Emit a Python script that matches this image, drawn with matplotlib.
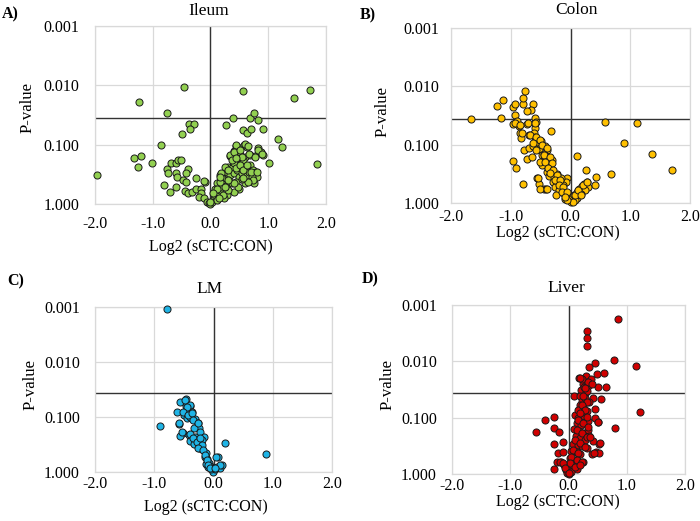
import matplotlib.pyplot as plt
from matplotlib.ticker import FixedLocator, FormatStrFormatter

plt.rcParams['font.family'] = ['Liberation Serif', 'DejaVu Serif']

# threshold line (p-value)
cutoff = 0.036

# Ileum
ileum_x = [-0.46, -1.24, -0.76, 0.56, 1.45, 1.73, 0.39, 0.69, 0.75, 0.83,
           -0.37, -0.28, -0.36, -0.49, 0.27, 0.56, 0.63, 0.71, 0.91, 1.17,
           1.24, -0.85, 1.84, -1.97, -1.32, -1.21, -1.25, -1.01, -0.81, -0.70,
           -0.60, -0.76, -0.74, -0.68, -0.59, -0.57, -0.51, -0.60, -0.58, -0.47,
           -0.42, -0.39, -0.43, -0.25, -0.10, -0.44, -0.39, -0.32, -0.25, -0.17,
           -0.16, -0.20, -0.11, -0.06, -0.03, 0.00, 0.03, 0.06, 0.10, 0.13,
           0.17, 0.20, 0.23, 0.16, 0.25, 0.28, 0.31, 0.34, 0.37, 0.40,
           0.43, 0.46, 0.49, 0.34, 0.40, 0.44, 0.51, 0.58, 0.64, 0.51,
           0.60, 0.68, 0.77, 0.83, 0.87, 0.91, 1.01, 0.60, 0.68, 0.74,
           0.79, 0.80, 0.76, 0.60, 0.49, 0.40, 0.28, 0.23, 0.11, 0.54,
           0.63, 0.50, 0.57, 0.46, 0.66, 0.31, 0.20, 0.12, 0.08, 0.27,
           0.37, 0.45, 0.54, 0.72, 0.44, 0.60, 0.65, 0.34, 0.40, 0.51,
           0.54, 0.67, 0.77, 0.83, 0.89, 0.25, 0.31, 0.40, 0.45, 0.51,
           0.57, 0.63, 0.71, 0.80, 0.74, 0.65, 0.57, 0.48, 0.40, 0.31,
           0.19, 0.16, 0.11, 0.05, 0.22, 0.31, 0.25, -0.11, 0.37, 0.45,
           0.16, 0.14, 0.00]
ileum_p = [0.0105, 0.019, 0.029, 0.0123, 0.0166, 0.012, 0.035, 0.035, 0.029, 0.038,
           0.045, 0.044, 0.055, 0.065, 0.047, 0.057, 0.063, 0.055, 0.055, 0.079,
           0.11, 0.10, 0.21, 0.32, 0.17, 0.155, 0.235, 0.205, 0.47, 0.63,
           0.52, 0.26, 0.30, 0.205, 0.205, 0.18, 0.18, 0.30, 0.35, 0.40,
           0.42, 0.26, 0.30, 0.37, 0.42, 0.61, 0.66, 0.62, 0.56, 0.55,
           0.66, 0.75, 0.80, 0.91, 0.97, 1.0, 0.93, 0.83, 0.75, 0.66,
           0.58, 0.51, 0.42, 0.32, 0.35, 0.29, 0.235, 0.32, 0.25, 0.30,
           0.205, 0.27, 0.35, 0.155, 0.13, 0.105, 0.115, 0.10, 0.108, 0.15,
           0.16, 0.15, 0.155, 0.115, 0.135, 0.15, 0.205, 0.235, 0.22, 0.27,
           0.29, 0.35, 0.44, 0.45, 0.55, 0.62, 0.71, 0.80, 0.85, 0.30,
           0.32, 0.19, 0.18, 0.17, 0.29, 0.40, 0.37, 0.45, 0.55, 0.50,
           0.45, 0.42, 0.38, 0.35, 0.102, 0.098, 0.105, 0.148, 0.132, 0.123,
           0.159, 0.145, 0.159, 0.123, 0.144, 0.234, 0.27, 0.205, 0.25, 0.22,
           0.27, 0.22, 0.29, 0.29, 0.40, 0.42, 0.37, 0.51, 0.45, 0.40,
           0.30, 0.42, 0.55, 0.66, 0.71, 0.58, 0.51, 0.41, 0.18, 0.17,
           0.35, 0.80, 0.91]

# Colon
colon_x = [-1.66, -1.17, -1.23, -1.13, -0.96, -0.93, -0.93, -0.97, -0.90, -0.86,
           -0.84, -0.83, -0.80, -0.79, -0.76, -0.63, -0.66, -0.72, -0.73, -0.60,
           -0.58, -0.60, -0.61, -0.69, -0.59, -0.56, -0.49, -0.33, -0.78, -0.70,
           -0.63, -0.52, -0.42, -0.40, -0.73, -0.64, -0.97, -0.91, -0.80, -0.56,
           -0.52, -0.45, -0.41, -0.48, -0.45, -0.37, -0.31, -0.42, -0.34, -0.40,
           -0.30, -0.36, -0.27, -0.21, -0.30, -0.20, -0.26, -0.17, -0.15, -0.09,
           -0.06, -0.07, -0.04, 0.00, 0.01, 0.06, 0.11, 0.15, 0.19, 0.23,
           0.27, 0.29, 0.25, 0.18, 0.11, 0.08, 0.05, 0.41, 0.43, 0.26,
           0.11, 0.67, 0.58, 1.11, 0.89, 1.36, 1.70, -0.23, -0.16, -0.12,
           -0.20, -0.25, -0.10, -0.06, -0.48, -0.51, -0.44, -0.93, -0.85, -0.71,
           -0.59, -0.82, -0.68, -0.57, -0.51, -0.62, -0.48, -0.40, -0.57, -0.45,
           -0.34, -0.43, -0.31, -0.37, -0.29, -0.34, -0.23, -0.26, -0.18, -0.20,
           -0.12, -0.15, -0.06, -0.09, 0.08, 0.13, 0.21, 0.27, 0.17, -0.54,
           -0.51, -0.40]
colon_p = [0.036, 0.035, 0.022, 0.017, 0.023, 0.020, 0.031, 0.044, 0.039, 0.047,
           0.062, 0.076, 0.020, 0.016, 0.012, 0.020, 0.025, 0.026, 0.044, 0.035,
           0.041, 0.052, 0.062, 0.069, 0.074, 0.090, 0.085, 0.058, 0.123, 0.114,
           0.105, 0.117, 0.105, 0.125, 0.174, 0.162, 0.188, 0.247, 0.47, 0.37,
           0.47, 0.57, 0.57, 0.152, 0.185, 0.162, 0.185, 0.225, 0.233, 0.29,
           0.295, 0.35, 0.36, 0.38, 0.43, 0.47, 0.53, 0.57, 0.65, 0.72,
           0.37, 0.44, 0.79, 0.96, 0.84, 0.74, 0.65, 0.57, 0.51, 0.47,
           0.43, 0.53, 0.61, 0.69, 0.82, 0.90, 0.96, 0.50, 0.36, 0.27,
           0.155, 0.32, 0.041, 0.043, 0.095, 0.145, 0.27, 0.32, 0.38, 0.50,
           0.61, 0.74, 0.85, 0.90, 0.225, 0.195, 0.142, 0.043, 0.046, 0.043,
           0.043, 0.063, 0.068, 0.073, 0.083, 0.095, 0.102, 0.115, 0.123, 0.151,
           0.161, 0.195, 0.21, 0.25, 0.27, 0.31, 0.33, 0.41, 0.41, 0.49,
           0.53, 0.64, 0.64, 0.78, 0.73, 0.60, 0.49, 0.43, 0.73, 0.38,
           0.58, 0.58]

# LM
lm_x = [-0.79, -0.91, -0.57, -0.46, -0.39, -0.47, -0.62, -0.50, -0.42, -0.37,
        -0.44, -0.39, -0.32, -0.58, -0.26, -0.24, -0.33, -0.22, -0.51, -0.57,
        -0.41, -0.31, -0.16, -0.39, -0.29, -0.22, -0.19, -0.33, -0.25, -0.19,
        -0.13, -0.15, -0.11, -0.08, -0.13, -0.06, -0.03, -0.01, 0.02, 0.06,
        0.11, 0.15, 0.07, 0.20, 0.88, -0.10, -0.05, -0.48, -0.40, -0.45,
        -0.51, -0.43, -0.37, -0.34, -0.26, -0.40, -0.34, -0.28, -0.23, -0.20,
        -0.26, -0.17, -0.14, -0.11, -0.09, -0.06, 0.05, 0.11, 0.03, -0.59,
        -0.54]
lm_p = [0.00107, 0.148, 0.054, 0.048, 0.063, 0.063, 0.080, 0.092, 0.078, 0.080,
        0.105, 0.098, 0.109, 0.134, 0.131, 0.156, 0.156, 0.185, 0.192, 0.223,
        0.213, 0.234, 0.234, 0.27, 0.28, 0.29, 0.26, 0.31, 0.36, 0.38,
        0.46, 0.53, 0.59, 0.68, 0.70, 0.78, 0.86, 0.98, 0.89, 0.80,
        0.86, 0.76, 0.53, 0.30, 0.48, 0.80, 0.89, 0.049, 0.060, 0.065,
        0.080, 0.092, 0.086, 0.113, 0.130, 0.20, 0.245, 0.28, 0.245, 0.32,
        0.37, 0.40, 0.49, 0.60, 0.75, 0.86, 0.54, 0.75, 0.86, 0.130,
        0.185]

# Liver
liver_x = [0.85, 0.32, 0.31, 0.32, 0.78, 1.16, 0.45, 0.36, 0.49, 0.61,
           0.30, 0.18, 0.25, 0.39, 0.34, 0.51, 0.65, 0.22, 0.30, 0.10,
           0.20, 0.42, 0.55, 0.35, 0.25, 0.46, 1.23, -0.41, -0.25, -0.56,
           -0.25, -0.16, -0.25, -0.09, -0.18, -0.10, -0.25, -0.20, -0.13, -0.08,
           -0.05, -0.02, 0.51, 0.80, 0.52, 0.42, 0.47, 0.41, 0.11, 0.16,
           0.22, 0.26, 0.31, 0.14, 0.21, 0.28, 0.34, 0.10, 0.18, 0.25,
           0.34, 0.13, 0.19, 0.28, 0.36, 0.08, 0.16, 0.24, 0.31, 0.05,
           0.14, 0.20, 0.03, 0.11, 0.18, 0.25, 0.02, 0.08, 0.15, 0.01,
           0.05, 0.00, 0.24, 0.28, 0.19, 0.16, 0.31, 0.26, 0.32, 0.23,
           0.34, 0.40, 0.20, 0.28, 0.25, 0.31, 0.23, 0.28, 0.20, 0.31,
           0.17, 0.25, 0.34, 0.14, 0.23, 0.31, 0.11, 0.20, 0.28, 0.08,
           0.17, 0.05, 0.14, 0.23, 0.03, 0.11, 0.20, -0.15, -0.09, -0.06,
           0.00, 0.54, 0.53, 0.43, 0.37, 0.46, 0.51]
liver_p = [0.0018, 0.0029, 0.0039, 0.0054, 0.0096, 0.012, 0.0107, 0.0124, 0.017, 0.016,
           0.018, 0.020, 0.025, 0.021, 0.027, 0.028, 0.028, 0.032, 0.035, 0.041,
           0.042, 0.045, 0.046, 0.053, 0.063, 0.070, 0.079, 0.109, 0.096, 0.182,
           0.152, 0.182, 0.29, 0.27, 0.42, 0.41, 0.81, 0.61, 0.60, 0.68,
           0.84, 0.96, 0.121, 0.152, 0.29, 0.26, 0.41, 0.44, 0.089, 0.102,
           0.083, 0.095, 0.077, 0.124, 0.133, 0.120, 0.113, 0.157, 0.170, 0.187,
           0.163, 0.214, 0.23, 0.245, 0.214, 0.29, 0.30, 0.32, 0.35, 0.39,
           0.41, 0.45, 0.52, 0.56, 0.60, 0.61, 0.68, 0.73, 0.81, 0.87,
           0.92, 1.0, 0.051, 0.045, 0.059, 0.072, 0.034, 0.029, 0.023, 0.021,
           0.023, 0.025, 0.020, 0.030, 0.042, 0.052, 0.059, 0.073, 0.083, 0.096,
           0.11, 0.126, 0.145, 0.166, 0.19, 0.22, 0.25, 0.28, 0.33, 0.37,
           0.43, 0.49, 0.56, 0.60, 0.65, 0.74, 0.69, 0.60, 0.65, 0.79,
           0.95, 0.28, 0.43, 0.43, 0.22, 0.103, 0.118]

panels = [
    ('A)', 'Ileum', ileum_x, ileum_p, '#92D050'),
    ('B)', 'Colon', colon_x, colon_p, '#FFC000'),
    ('C)', 'LM', lm_x, lm_p, '#1FB4E6'),
    ('D)', 'Liver', liver_x, liver_p, '#D00000'),
]
# layout per panel: axes rect, y tick pad, x tick pad, ylabel coords, xlabel coords,
# title position, letter position
layout = [
    ([0.1357, 0.6084, 0.330, 0.3417], 11.5, 8.4, (-0.294, 0.542), (0.500, -0.242),
     (0.2986, 0.9790), (0.003, 0.973)),
    ([0.6443, 0.6104, 0.3414, 0.3359], 8.6, 4.1, (-0.285, 0.520), (0.448, -0.171),
     (0.8229, 0.9810), (0.514, 0.971)),
    ([0.1357, 0.0940, 0.3386, 0.3167], 10.8, 3.0, (-0.274, 0.533), (0.468, -0.212),
     (0.2986, 0.4450), (0.010, 0.459)),
    ([0.6457, 0.0902, 0.3329, 0.3244], 10.8, 2.7, (-0.275, 0.530), (0.455, -0.166),
     (0.8086, 0.4470), (0.517, 0.4645)),
]

fig = plt.figure(figsize=(7, 5.21), dpi=100)

for (letter, name, xs, ps, col), (rect, ypad, xpad, ylc, xlc, tpos, lpos) in zip(panels, layout):
    ax = fig.add_axes(rect)
    ax.set_yscale('log')
    ax.set_ylim(1.0, 0.001)
    ax.set_xlim(-2, 2)
    ax.yaxis.set_major_locator(FixedLocator([0.001, 0.01, 0.1, 1.0]))
    ax.yaxis.set_minor_locator(FixedLocator([]))
    ax.yaxis.set_major_formatter(FormatStrFormatter('%.3f'))
    ax.set_xticks([-2, -1, 0, 1, 2])
    ax.xaxis.set_major_formatter(FormatStrFormatter('%.1f'))
    ax.grid(True, color='#D9D9D9', linewidth=0.9)
    ax.set_axisbelow(True)
    for s in ax.spines.values():
        s.set_color('#D9D9D9')
        s.set_linewidth(0.9)
    ax.tick_params(length=0, labelsize=11.5)
    ax.tick_params(axis='y', pad=ypad)
    ax.tick_params(axis='x', pad=xpad)
    ax.axvline(0, color='#333333', linewidth=1.0, zorder=1)
    ax.axhline(cutoff, color='#333333', linewidth=1.0, zorder=1)
    ax.scatter(xs, ps, s=26, color=col, edgecolors='#1a1a1a', linewidths=0.7, zorder=3,
               clip_on=False)
    ax.set_xlabel('Log2 (sCTC:CON)', fontsize=11.5, va='center')
    ax.xaxis.set_label_coords(*xlc)
    ax.set_ylabel('P-value', fontsize=12, va='center')
    ax.yaxis.set_label_coords(*ylc)
    fig.text(tpos[0], tpos[1], name, fontsize=12.5, ha='center', va='center')
    fig.text(lpos[0], lpos[1], letter, fontsize=11.5, fontweight='bold', ha='left', va='center')

fig.savefig('out.png', dpi=100)
